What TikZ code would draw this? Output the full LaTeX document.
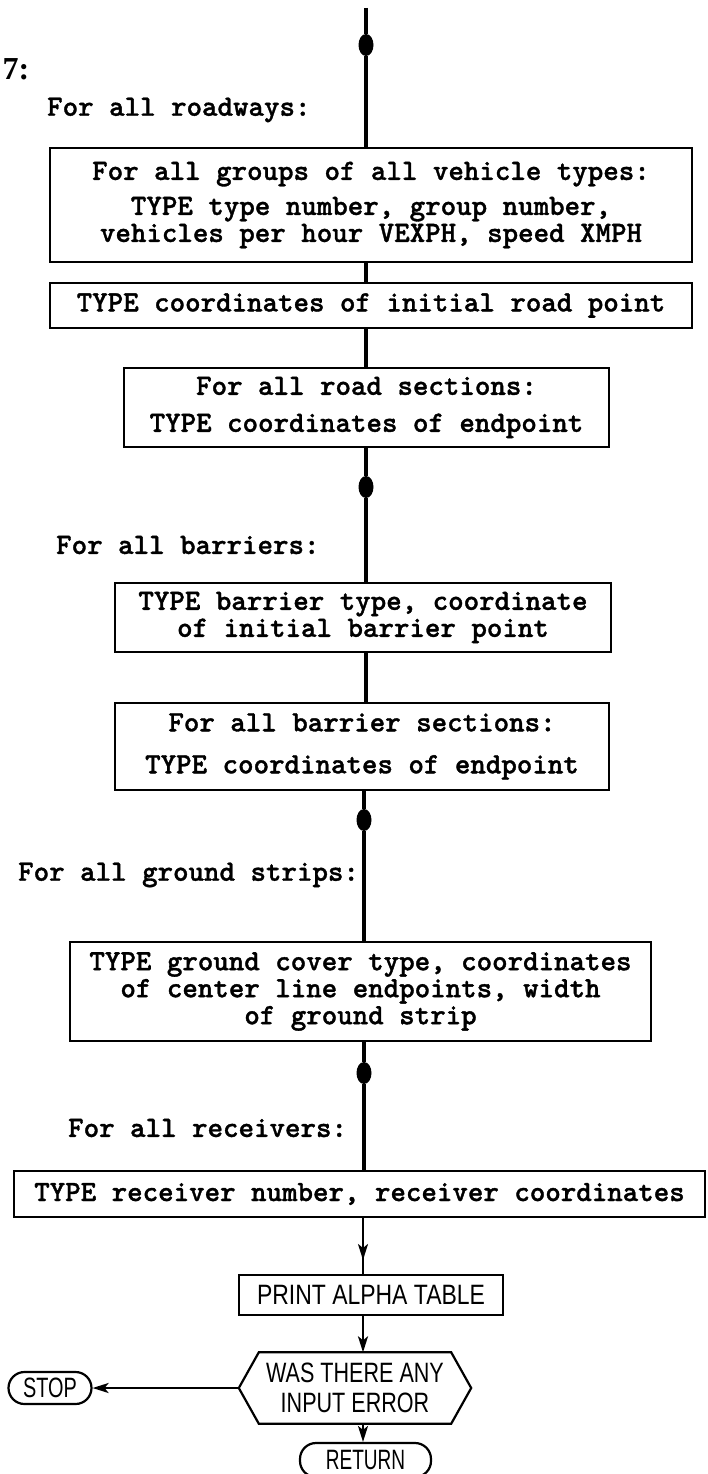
\documentclass[tikz,border=0pt]{standalone}
\usepackage{fontspec}
\usepackage{graphicx}
\usetikzlibrary{arrows.meta,shapes.geometric,decorations.markings}
\newfontfamily\boxfont{lmmonolt10-bold.otf}[FakeBold=1.2]
\newfontfamily\letterfont{Liberation Sans}
\newfontfamily\markfont{Liberation Serif}
\newcommand\narrowtxt[2]{\scalebox{#1}[1]{#2}}

\begin{document}
\begin{tikzpicture}[x=1pt,y=-1pt,
  mono/.style={font=\boxfont\fontsize{29.5}{27}\selectfont, align=center},
  stepbox/.style={draw, line width=2.6pt, rectangle, inner sep=0pt, mono},
  looplabel/.style={mono, anchor=west, inner sep=0pt},
  dot/.style={ellipse, fill=black, minimum width=15pt, minimum height=22pt, inner sep=0pt},
  mainline/.style={line width=3.4pt},
  letter/.style={font=\letterfont\fontsize{28}{30}\selectfont, align=center, inner sep=0pt},
  procbox/.style={draw, line width=2.2pt, rectangle, letter},
  termbox/.style={draw, line width=2.2pt, rectangle, rounded corners=16pt, letter},
  thinline/.style={line width=2.2pt},
  tip/.style={-{Stealth[length=16pt,width=10pt,inset=4pt]}},
  midtip/.style={postaction={decorate}, decoration={markings,
      mark=at position 0.75 with {\arrow{Stealth[length=16pt,width=10pt,inset=4pt]}}}}
]
\useasboundingbox (0,0) rectangle (707,1474);

% flow axes
\coordinate (ax) at (366,0);
\coordinate (lx) at (363,0);

% section mark
\node[font=\markfont\bfseries\fontsize{32}{32}\selectfont, inner sep=0pt] (sec) at (16,69) {7:};

% roadways loop
\coordinate (top) at (366,8);
\node[dot] (d1) at (366,45) {};
\node[looplabel] (lroad) at (47,110) {For all roadways:};
\node[stepbox, minimum width=642pt, minimum height=114pt] (b1) at (371,205)
  {For all groups of all vehicle types:\\[8pt]
   TYPE type number, group number,\\
   vehicles per hour VEXPH, speed XMPH};
\node[stepbox, minimum width=642pt, minimum height=45pt] (b2) at (371,305.5)
  {TYPE coordinates of initial road point};
\node[stepbox, minimum width=485pt, minimum height=79pt] (b3) at (366.5,407.5)
  {For all road sections:\\[10pt] TYPE coordinates of endpoint};

% barriers loop
\node[dot] (d2) at (366,487) {};
\node[looplabel] (lbar) at (56,545) {For all barriers:};
\node[stepbox, minimum width=496pt, minimum height=69pt] (b4) at (363,617.5)
  {TYPE barrier type, coordinate\\ of initial barrier point};
\node[stepbox, minimum width=494pt, minimum height=87pt] (b5) at (362,746.5)
  {For all barrier sections:\\[15pt] TYPE coordinates of endpoint};

% ground strips loop
\node[dot] (d3) at (364,820) {};
\node[looplabel] (lgnd) at (18,875) {For all ground strips:};
\node[stepbox, minimum width=581pt, minimum height=99pt] (b6) at (360.5,991.5)
  {TYPE ground cover type, coordinates\\
   of center line endpoints, width\\
   of ground strip};

% receivers loop
\node[dot] (d4) at (364,1073) {};
\node[looplabel] (lrec) at (68,1128) {For all receivers:};
\node[stepbox, minimum width=691pt, minimum height=46pt] (b7) at (359.5,1194)
  {TYPE receiver number, receiver coordinates};

% output and error check
\node[procbox, minimum width=264pt, minimum height=40pt] (print) at (371,1295)
  {\narrowtxt{0.82}{PRINT ALPHA TABLE}};
\node[letter, minimum width=232pt, minimum height=71pt] (hex) at (355,1388)
  {\narrowtxt{0.77}{WAS THERE ANY}\\ \narrowtxt{0.77}{INPUT ERROR}};
\draw[thinline] (hex.west) -- ([xshift=20pt]hex.north west) -- ([xshift=-20pt]hex.north east)
  -- (hex.east) -- ([xshift=-20pt]hex.south east) -- ([xshift=20pt]hex.south west) -- cycle;
\node[termbox, minimum width=83pt, minimum height=32pt] (stop) at (50,1388)
  {\narrowtxt{0.71}{STOP}};
\node[termbox, minimum width=131pt, minimum height=34pt] (ret) at (365.5,1460)
  {\narrowtxt{0.68}{RETURN}};

% main flow line
\draw[mainline] (top) -- (d1) -- (d1 |- b1.north);
\draw[mainline] (b1.south -| ax) -- (b2.north -| ax);
\draw[mainline] (b2.south -| ax) -- (b3.north -| ax);
\draw[mainline] (b3.south -| ax) -- (d2) -- (d2 |- b4.north);
\draw[mainline] (b4.south -| ax) -- (b5.north -| ax);
\draw[mainline] (b5.south -| d3) -- (d3) -- (d3 |- b6.north);
\draw[mainline] (b6.south -| d4) -- (d4) -- (d4 |- b7.north);

% arrows of the lower part
\draw[thinline, midtip] (b7.south -| lx) -- (print.north -| lx);
\draw[thinline, tip] (print.south -| lx) -- (hex.north -| lx);
\draw[thinline, tip] (hex.south -| lx) -- (ret.north -| lx);
\draw[thinline, tip] (hex.west) -- (stop.east);
\end{tikzpicture}
\end{document}
